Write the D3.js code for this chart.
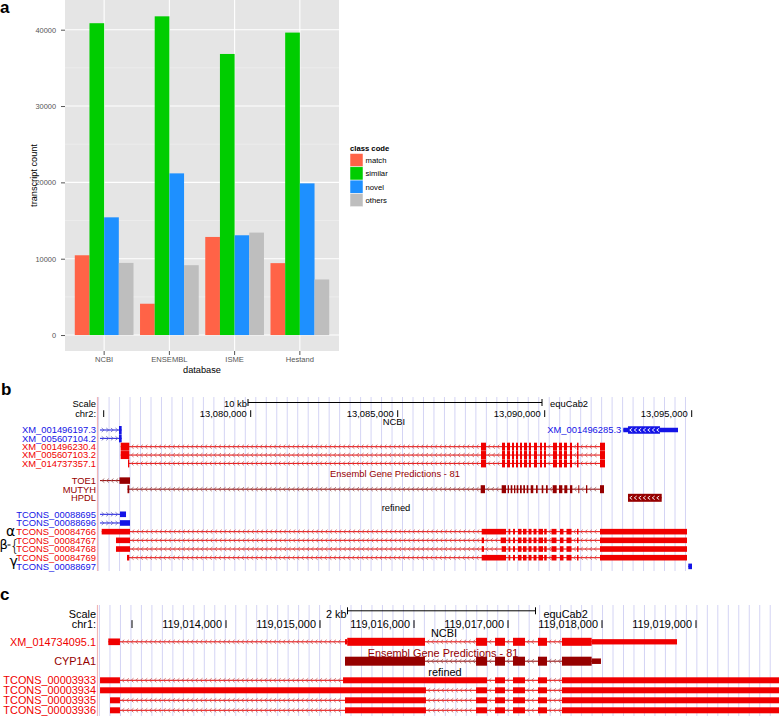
<!DOCTYPE html>
<html><head><meta charset="utf-8">
<script src="https://cdn.jsdelivr.net/npm/d3@7/dist/d3.min.js"></script>
<style>
body{margin:0;background:#fff;}
svg{display:block;}
</style></head>
<body>
<svg id="fig" width="779" height="716"></svg>
<script>
// ================= DATA =================
// ---- Panel a: transcript counts per database and class code ----
const databases = ["NCBI", "ENSEMBL", "ISME", "Hestand"];
const classCodes = ["match", "similar", "novel", "others"];
const matchCounts   = [10450,  4100, 12850,  9420];
const similarCounts = [40850, 41750, 36820, 39620];
const novelCounts   = [15420, 21180, 13070, 19870];
const othersCounts  = [ 9450,  9150, 13420,  7280];
const countTicks = [0, 10000, 20000, 30000, 40000];

// ---- Panel b: chr2 (positions in kb) ----
const bTicksKb = [13075, 13080, 13085, 13090, 13095];
const bTickLabels = ["", "13,080,000", "13,085,000", "13,090,000", "13,095,000"];
const bNcbiCluster = [[13087.833,13088.003],[13088.548,13088.650],[13088.718,13088.820],[13088.888,13088.956],[13089.024,13089.092],[13089.160,13089.228],[13089.296,13089.398],[13089.466,13089.534],[13089.636,13089.738],[13089.840,13089.908],[13089.976,13090.044],[13090.282,13090.418],[13090.486,13090.588],[13090.656,13090.758],[13090.860,13090.929],[13091.099,13091.150],[13091.881,13092.051]];
const bMutyhCluster = [[13087.823,13087.969],[13088.537,13088.684],[13088.741,13088.786],[13088.844,13088.898],[13088.956,13089.000],[13089.048,13089.102],[13089.160,13089.218],[13089.272,13089.330],[13089.388,13089.442],[13089.524,13089.612],[13089.704,13089.762],[13089.898,13089.952],[13090.044,13090.102],[13090.272,13090.408],[13090.486,13090.599],[13090.667,13090.769],[13090.861,13090.939],[13091.143,13091.177],[13091.405,13091.449],[13091.881,13092.017]];
const bRefinedTail = [[13088.769,13088.830],[13088.922,13088.990],[13089.092,13089.211],[13089.262,13089.381],[13089.449,13089.551],[13089.619,13089.721],[13089.789,13089.942],[13089.983,13090.068],[13090.231,13090.401],[13090.520,13090.639],[13090.741,13090.912],[13091.099,13091.150],[13091.881,13094.840]];

const bNcbiGenes = [
  {name:"XM_001496197.3", type:"blue", strand:"+", line:[13074.874,13075.611], exons:[[13075.520,13075.611]]},
  {name:"XM_005607104.2", type:"blue", strand:"+", line:[13074.874,13075.611], exons:[[13075.520,13075.611]]},
  {name:"XM_001496230.4", type:"red", strand:"-", line:[13075.578,13092.051], exons:[[13075.578,13075.871]].concat(bNcbiCluster)},
  {name:"XM_005607103.2", type:"red", strand:"-", line:[13075.578,13092.051], exons:[[13075.578,13075.871]].concat(bNcbiCluster)},
  {name:"XM_014737357.1", type:"red", strand:"-", line:[13075.827,13092.051], exons:[[13075.827,13075.871]].concat(bNcbiCluster)}
];
const bNcbiExtra = {name:"XM_001496285.3", type:"blue", strand:"-", line:[13092.673,13094.534], exons:[[13092.673,13092.833,"thin"],[13092.833,13093.922,"chev"],[13093.922,13094.534,"thin"]]};
const bEnsemblGenes = [
  {name:"TOE1", type:"dark", strand:"-", line:[13074.874,13075.895], exons:[[13075.537,13075.895,"mid"]]},
  {name:"MUTYH", type:"dark", strand:"-", line:[13075.810,13092.017], exons:[[13075.810,13075.871]].concat(bMutyhCluster)},
  {name:"HPDL", type:"dark", strand:"-", line:[13092.833,13093.980], exons:[[13092.833,13093.980,"chev"]]}
];
const bRefinedGenes = [
  {name:"TCONS_00088695", type:"blue", strand:"+", line:[13074.874,13075.759], exons:[[13075.554,13075.759]]},
  {name:"TCONS_00088696", type:"blue", strand:"+", line:[13074.874,13075.895], exons:[[13075.554,13075.895]]},
  {name:"TCONS_00084766", type:"red", strand:"-", line:[13074.932,13094.840], exons:[[13074.932,13075.895],[13087.857,13088.684]].concat(bRefinedTail)},
  {name:"TCONS_00084767", type:"red", strand:"-", line:[13075.418,13094.840], exons:[[13075.418,13075.895],[13087.857,13087.935],[13088.503,13088.684]].concat(bRefinedTail)},
  {name:"TCONS_00084768", type:"red", strand:"-", line:[13075.418,13094.840], exons:[[13075.418,13075.895],[13087.857,13087.935],[13088.537,13088.684]].concat(bRefinedTail)},
  {name:"TCONS_00084769", type:"red", strand:"-", line:[13075.793,13094.840], exons:[[13075.793,13075.871],[13087.857,13088.684]].concat(bRefinedTail)},
  {name:"TCONS_00088697", type:"blue", strand:"+", line:[13094.884,13095.010], exons:[[13094.884,13095.010]]}
];
const isoformMarks = ["α", "β", "γ"];

// ---- Panel c: chr1 (positions in kb) ----
const cTicksKb = [119013, 119014, 119015, 119016, 119017, 119018, 119019];
const cTickLabels = ["", "119,014,000", "119,015,000", "119,016,000", "119,017,000", "119,018,000", "119,019,000"];
const cMidExons = [[119016.660,119016.777],[119016.862,119016.968],[119017.053,119017.181],[119017.319,119017.415]];
const cNcbiGenes = [
  {name:"XM_014734095.1", type:"red", strand:"-", line:[119012.748,119018.798], exons:[[119012.748,119012.872,"mid"],[119015.266,119015.290,"thin"],[119015.290,119016.117]].concat(cMidExons,[[119017.574,119017.890],[119017.890,119018.798,"thin"]])}
];
const cEnsemblGenes = [
  {name:"CYP1A1", type:"dark", strand:"-", line:[119015.266,119017.989], exons:[[119015.266,119016.117]].concat(cMidExons,[[119017.574,119017.890],[119017.890,119017.989,"thin"]])}
];
const cRefinedGenes = [
  {name:"TCONS_00003933", type:"red", strand:"-", line:[119012.660,119019.883], exons:[[119012.660,119012.872],[119015.245,119016.777],[119016.862,119016.968],[119017.053,119017.181],[119017.319,119017.415],[119017.574,119019.883]]},
  {name:"TCONS_00003934", type:"red", strand:"-", line:[119012.660,119019.883], exons:[[119012.660,119016.127]].concat(cMidExons,[[119017.574,119019.883]])},
  {name:"TCONS_00003935", type:"red", strand:"-", line:[119012.766,119019.883], exons:[[119012.766,119012.872],[119015.266,119016.127]].concat(cMidExons,[[119017.574,119019.883]])},
  {name:"TCONS_00003936", type:"red", strand:"-", line:[119012.766,119019.883], exons:[[119012.766,119012.872],[119015.266,119016.127]].concat(cMidExons,[[119017.574,119019.883]])}
];

// ================= DRAWING =================
const FONT = '"Liberation Sans", Arial, Helvetica, sans-serif';
const svg = d3.select("#fig");
const classColors = ["#FF6347", "#00CD00", "#1E90FF", "#BEBEBE"];
const typeColors = {blue:"#1414E6", red:"#F00000", dark:"#960000"};

// panel letters
[["a",0,12.5],["b",1,395],["c",0,600]].forEach(([t,x,y]) =>
  svg.append("text").attr("x",x).attr("y",y).text(t)
    .attr("font-family",FONT).attr("font-weight","bold").attr("font-size",17).attr("fill","#000"));

// ---------- Panel a ----------
(function(){
  const A = {l:65, r:339, t:0, b:351};
  const g = svg.append("g");
  g.append("rect").attr("x",A.l).attr("y",A.t).attr("width",A.r-A.l).attr("height",A.b-A.t).attr("fill","#E5E5E5");
  const y = d3.scaleLinear().domain([-2090, 43890]).range([A.b, A.t]);
  const x = d3.scaleBand().domain(databases).range([A.l, A.r]).paddingInner(0).paddingOuter(0.1);
  const bw = x.bandwidth();
  const x1 = d3.scaleBand().domain(classCodes).range([0, bw*0.9]);
  const minor = d3.pairs(countTicks).map(([a,b]) => (a+b)/2);
  g.selectAll(".mi").data(minor).join("line").attr("x1",A.l).attr("x2",A.r)
    .attr("y1",d=>y(d)).attr("y2",d=>y(d)).attr("stroke","#F2F2F2").attr("stroke-width",0.6);
  g.selectAll(".ma").data(countTicks).join("line").attr("x1",A.l).attr("x2",A.r)
    .attr("y1",d=>y(d)).attr("y2",d=>y(d)).attr("stroke","#fff").attr("stroke-width",1.1);
  g.selectAll(".mv").data(databases).join("line").attr("y1",A.t).attr("y2",A.b)
    .attr("x1",d=>x(d)+bw/2).attr("x2",d=>x(d)+bw/2).attr("stroke","#fff").attr("stroke-width",1.1);
  const series = [matchCounts, similarCounts, novelCounts, othersCounts];
  const bars = databases.flatMap((db,i) => classCodes.map((c,j) => ({db, c, j, v:series[j][i]})));
  g.selectAll(".bar").data(bars).join("rect")
    .attr("x", d => x(d.db) + bw*0.05 + x1(d.c)).attr("width", x1.bandwidth())
    .attr("y", d => y(d.v)).attr("height", d => y(0) - y(d.v)).attr("fill", d => classColors[d.j]);
  const ya = g.append("g").attr("transform",`translate(${A.l},0)`)
    .call(d3.axisLeft(y).tickValues(countTicks).tickSize(4).tickPadding(5).tickFormat(d3.format("d")));
  ya.select(".domain").remove();
  ya.selectAll("line").attr("stroke","#555");
  ya.selectAll("text").attr("font-family",FONT).attr("font-size",7.4).attr("fill","#555");
  const xa = g.append("g").attr("transform",`translate(0,${A.b})`)
    .call(d3.axisBottom(x).tickSize(4).tickPadding(2));
  xa.select(".domain").remove();
  xa.selectAll("line").attr("stroke","#555");
  xa.selectAll("text").attr("font-family",FONT).attr("font-size",7.6).attr("fill","#555");
  g.append("text").attr("x",(A.l+A.r)/2).attr("y",372.5).attr("text-anchor","middle")
    .attr("font-family",FONT).attr("font-size",9.2).text("database");
  g.append("text").attr("transform",`translate(36.5,${(A.t+A.b)/2}) rotate(-90)`).attr("text-anchor","middle")
    .attr("font-family",FONT).attr("font-size",9.2).text("transcript count");
  // legend
  const lg = g.append("g").attr("transform","translate(350,0)");
  lg.append("text").attr("x",0).attr("y",150.5).attr("font-family",FONT).attr("font-weight","bold")
    .attr("font-size",7.7).text("class code");
  classCodes.forEach((c,j) => {
    lg.append("rect").attr("x",0).attr("y",153.5+j*13.3).attr("width",13).attr("height",13.3)
      .attr("fill",classColors[j]).attr("stroke","#fff").attr("stroke-width",0.5);
    lg.append("text").attr("x",15.5).attr("y",153.5+j*13.3+9.4).attr("font-family",FONT)
      .attr("font-size",7.7).text(c);
  });
})();

// ---------- browser-track helpers ----------
function drawGene(g, x, gene, yc, hThick, hThin, labelFont, inlineLabel) {
  const col = typeColors[gene.type];
  const chevCol = d3.interpolateRgb(col, "#9a9a9a")(0.55);
  const x0 = x(gene.line[0]), x1 = x(gene.line[1]);
  g.append("line").attr("x1",x0).attr("x2",x1).attr("y1",yc).attr("y2",yc).attr("stroke",col).attr("stroke-width",1);
  const ex = gene.exons.map(e => [x(e[0]), x(e[1]), e[2]||"thick"]).sort((a,b)=>a[0]-b[0]);
  const gaps = []; let cur = x0;
  ex.forEach(e => { if (e[0] > cur + 1) gaps.push([cur, e[0]]); cur = Math.max(cur, e[1]); });
  if (x1 > cur + 1) gaps.push([cur, x1]);
  const dir = gene.strand === "+" ? 1 : -1;
  gaps.forEach(([a,b]) => {
    for (let cx = a + 3; cx < b - 1.5; cx += 4.6) {
      g.append("path").attr("d",`M${cx-1.3*dir},${yc-2} L${cx+1.1*dir},${yc} L${cx-1.3*dir},${yc+2}`)
        .attr("fill","none").attr("stroke",chevCol).attr("stroke-width",0.8);
    }
  });
  ex.forEach(([a,b,k]) => {
    const h = k === "thin" ? hThin : (k === "mid" ? (hThick+hThin)/2 : hThick);
    g.append("rect").attr("x",a).attr("width",Math.max(1,b-a)).attr("y",yc-h/2).attr("height",h).attr("fill",col);
    if (k === "chev") {
      for (let cx = a + 3; cx < b - 1.5; cx += 4.5) {
        g.append("path").attr("d",`M${cx+1.2},${yc-1.8} L${cx-1.2},${yc} L${cx+1.2},${yc+1.8}`)
          .attr("fill","none").attr("stroke","#fff").attr("stroke-width",0.9);
      }
    }
  });
  const lx = inlineLabel ? x0 - 2 : 96;
  g.append("text").attr("x",lx).attr("y",yc + labelFont*0.36).attr("text-anchor","end")
    .attr("font-family",FONT).attr("font-size",labelFont).attr("fill",col).text(gene.name);
}

function drawFrame(g, x, cfg) {
  g.selectAll(".guide").data(d3.range(cfg.guideStart, cfg.guideEnd, 10.48)).join("line")
    .attr("x1",d=>d).attr("x2",d=>d).attr("y1",cfg.top).attr("y2",cfg.bottom)
    .attr("stroke","#D4D4F4").attr("stroke-width",1);
  g.append("line").attr("x1",97.5).attr("x2",97.5).attr("y1",cfg.top).attr("y2",cfg.bottom)
    .attr("stroke","#F2B5B5").attr("stroke-width",1.2);
  const f = cfg.font;
  g.append("text").attr("x",96).attr("y",cfg.scaleY).attr("text-anchor","end").attr("font-family",FONT).attr("font-size",f).text("Scale");
  g.append("text").attr("x",96).attr("y",cfg.chrY).attr("text-anchor","end").attr("font-family",FONT).attr("font-size",f).text(cfg.chr);
  const dom = [x.invert(98), x.invert(cfg.winRight)];
  const mid = (dom[0]+dom[1])/2;
  const s0 = x(mid - cfg.barKb/2), s1 = x(mid + cfg.barKb/2);
  g.append("line").attr("x1",s0).attr("x2",s1).attr("y1",cfg.barY).attr("y2",cfg.barY).attr("stroke","#000").attr("stroke-width",1);
  [s0,s1].forEach(sx => g.append("line").attr("x1",sx).attr("x2",sx).attr("y1",cfg.barY-3.5).attr("y2",cfg.barY+3.5).attr("stroke","#000"));
  g.append("text").attr("x",s0-1).attr("y",cfg.scaleY).attr("text-anchor","end").attr("font-family",FONT).attr("font-size",f).text(cfg.barKb + " kb");
  g.append("text").attr("x",s1+8).attr("y",cfg.scaleY).attr("font-family",FONT).attr("font-size",f).text("equCab2");
  cfg.ticks.forEach((t,i) => {
    const tx = x(t);
    g.append("line").attr("x1",tx).attr("x2",tx).attr("y1",cfg.chrY-f*0.72).attr("y2",cfg.chrY).attr("stroke","#000").attr("stroke-width",1);
    if (cfg.labels[i]) g.append("text").attr("x",tx-4).attr("y",cfg.chrY-0.5).attr("text-anchor","end")
      .attr("font-family",FONT).attr("font-size",f).text(cfg.labels[i]);
  });
}
function trackTitle(g, xc, y, text, col, f) {
  g.append("text").attr("x",xc).attr("y",y).attr("text-anchor","middle").attr("font-family",FONT)
    .attr("font-size",f).attr("fill",col).text(text);
}

// ---------- Panel b ----------
(function(){
  const g = svg.append("g");
  const x = d3.scaleLinear().domain([13080, 13095]).range([250.7, 691.7]);
  const f = 9.4;
  drawFrame(g, x, {guideStart:98.6, guideEnd:690, top:397, bottom:571, font:f, scaleY:407, chrY:417,
    chr:"chr2:", barKb:10, barY:402.5, winRight:692, ticks:bTicksKb, labels:bTickLabels});
  trackTitle(g, 394, 425, "NCBI", "#000", f);
  bNcbiGenes.forEach((gn,i) => drawGene(g, x, gn, 430 + i*8.35, 8, 5, f, false));
  drawGene(g, x, bNcbiExtra, 430, 7.5, 4.5, f, true);
  trackTitle(g, 395, 477, "Ensembl Gene Predictions - 81", typeColors.dark, f);
  bEnsemblGenes.forEach((gn,i) => drawGene(g, x, gn, 480.6 + i*8.6, 8, 5, f, false));
  trackTitle(g, 396, 510.5, "refined", "#000", f);
  bRefinedGenes.forEach((gn,i) => drawGene(g, x, gn, 514.3 + i*8.68, 5.6, 4, f, false));
  const mk = g.append("g").attr("font-family","'DejaVu Sans', sans-serif").attr("fill","#000");
  mk.append("text").attr("x",6).attr("y",535.5).attr("font-size",14).text(isoformMarks[0]);
  mk.append("text").attr("x",-0.5).attr("y",549).attr("font-size",13).text(isoformMarks[1]);
  mk.append("line").attr("x1",7.5).attr("x2",10.5).attr("y1",545).attr("y2",545).attr("stroke","#000").attr("stroke-width",1);
  mk.append("text").attr("x",9.5).attr("y",551).attr("font-size",16).attr("font-weight","300").text("{");
  mk.append("text").attr("x",9.5).attr("y",566).attr("font-size",14).text(isoformMarks[2]);
})();

// ---------- Panel c ----------
(function(){
  const g = svg.append("g");
  const x = d3.scaleLinear().domain([119014, 119019]).range([226, 696]);
  const f = 10.9;
  svg.append("defs").append("clipPath").attr("id","clipc").append("rect").attr("x",98).attr("y",600).attr("width",681).attr("height",116);
  drawFrame(g, x, {guideStart:99.5, guideEnd:779, top:605, bottom:716, font:f, scaleY:617.5, chrY:628,
    chr:"chr1:", barKb:2, barY:610.8, winRight:785, ticks:cTicksKb, labels:cTickLabels});
  const gc = g.append("g");
  trackTitle(g, 444, 636.7, "NCBI", "#000", f);
  cNcbiGenes.forEach(gn => drawGene(gc, x, gn, 641.8, 8, 5.3, f, false));
  trackTitle(g, 443, 656.5, "Ensembl Gene Predictions - 81", typeColors.dark, f);
  cEnsemblGenes.forEach(gn => drawGene(gc, x, gn, 661.2, 9, 5.5, f, false));
  trackTitle(g, 445, 676, "refined", "#000", f);
  cRefinedGenes.forEach((gn,i) => drawGene(gc, x, gn, 680.3 + i*10, 6, 4, f, false));
  gc.selectAll("line,path,rect").attr("clip-path","url(#clipc)");
})();
</script>
</body></html>
